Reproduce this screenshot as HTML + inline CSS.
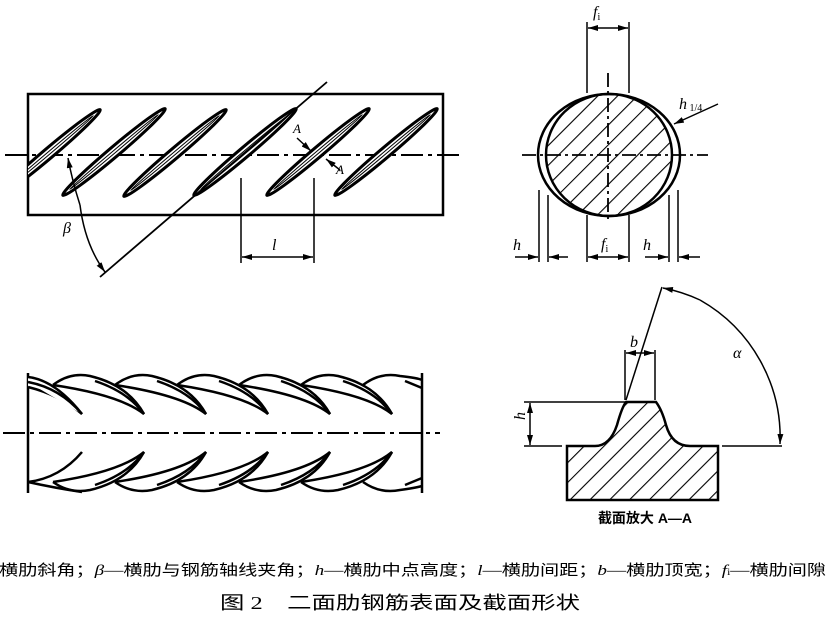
<!DOCTYPE html>
<html><head><meta charset="utf-8"><style>
html,body{margin:0;padding:0;background:#fff;}
svg{display:block;}
text{font-family:"Liberation Serif","Noto Serif CJK SC",serif;}
</style></head><body>
<svg width="827" height="625" viewBox="0 0 827 625" xmlns="http://www.w3.org/2000/svg">
<defs>
<pattern id="h" patternUnits="userSpaceOnUse" width="14" height="14" patternTransform="rotate(45)">
<line x1="0" y1="0" x2="0" y2="14" stroke="#000" stroke-width="2.2"/>
</pattern>
<clipPath id="r1"><rect x="28" y="94" width="415" height="121"/></clipPath>
<marker id="a" markerWidth="10" markerHeight="6" refX="10" refY="3" orient="auto" markerUnits="userSpaceOnUse"><path d="M0,0 L10,3 L0,6z" fill="#000"/></marker>
</defs>
<g fill="none" stroke="#000">
<rect x="28" y="94" width="415" height="121" stroke-width="2.5"/>
<line x1="5" y1="155" x2="460" y2="155" stroke-width="2" stroke-dasharray="22,5,4,5"/>
<g clip-path="url(#r1)" fill="#fff">
<g transform="translate(49,153) rotate(-40.2)"><ellipse rx="67" ry="5" stroke-width="3"/><ellipse rx="58" ry="1.3" stroke-width="1"/></g>
<g transform="translate(114,152) rotate(-40.2)"><ellipse rx="67" ry="5" stroke-width="3"/><ellipse rx="58" ry="1.3" stroke-width="1"/></g>
<g transform="translate(175,153) rotate(-40.2)"><ellipse rx="67" ry="5" stroke-width="3"/><ellipse rx="58" ry="1.3" stroke-width="1"/></g>
<g transform="translate(245,152) rotate(-40.2)"><ellipse rx="67" ry="5" stroke-width="3"/><ellipse rx="58" ry="1.3" stroke-width="1"/></g>
<g transform="translate(318,152) rotate(-40.2)"><ellipse rx="67" ry="5" stroke-width="3"/><ellipse rx="58" ry="1.3" stroke-width="1"/></g>
<g transform="translate(386,152) rotate(-40.2)"><ellipse rx="67" ry="5" stroke-width="3"/><ellipse rx="58" ry="1.3" stroke-width="1"/></g>
</g>
<line x1="100" y1="277" x2="327" y2="82" stroke-width="1.8"/>
<path d="M80,205 Q85,245 105,272" stroke-width="1.5" marker-end="url(#a)"/>
<path d="M80,205 Q72,180 68,158" stroke-width="1.5" marker-end="url(#a)"/>
<line x1="297" y1="138" x2="311" y2="151" stroke-width="1.5" marker-end="url(#a)"/>
<line x1="340" y1="170" x2="326" y2="159" stroke-width="1.5" marker-end="url(#a)"/>
<line x1="241" y1="178" x2="241" y2="263" stroke-width="1.5"/>
<line x1="314" y1="178" x2="314" y2="263" stroke-width="1.5"/>
<line x1="277" y1="257" x2="242" y2="257" stroke-width="1.5" marker-end="url(#a)"/>
<line x1="277" y1="257" x2="313" y2="257" stroke-width="1.5" marker-end="url(#a)"/>

<ellipse cx="609" cy="155" rx="63" ry="61" fill="url(#h)" stroke-width="2.5"/>
<ellipse cx="609" cy="155" rx="71" ry="61" stroke-width="2.5"/>
<line x1="608" y1="73" x2="608" y2="220" stroke-width="1.8" stroke-dasharray="14,4,3,4"/>
<line x1="522" y1="155" x2="708" y2="155" stroke-width="1.8" stroke-dasharray="14,4,3,4"/>
<line x1="587" y1="22" x2="587" y2="93" stroke-width="1.5"/>
<line x1="629" y1="22" x2="629" y2="93" stroke-width="1.5"/>
<line x1="608" y1="28" x2="588" y2="28" stroke-width="1.5" marker-end="url(#a)"/>
<line x1="608" y1="28" x2="628" y2="28" stroke-width="1.5" marker-end="url(#a)"/>
<line x1="539" y1="190" x2="539" y2="262" stroke-width="1.5"/>
<line x1="548" y1="195" x2="548" y2="262" stroke-width="1.5"/>
<line x1="587" y1="215" x2="587" y2="262" stroke-width="1.5"/>
<line x1="629" y1="215" x2="629" y2="262" stroke-width="1.5"/>
<line x1="669" y1="195" x2="669" y2="262" stroke-width="1.5"/>
<line x1="678" y1="190" x2="678" y2="262" stroke-width="1.5"/>
<line x1="515" y1="257" x2="538" y2="257" stroke-width="1.5" marker-end="url(#a)"/>
<line x1="568" y1="257" x2="549" y2="257" stroke-width="1.5" marker-end="url(#a)"/>
<line x1="608" y1="257" x2="588" y2="257" stroke-width="1.5" marker-end="url(#a)"/>
<line x1="608" y1="257" x2="628" y2="257" stroke-width="1.5" marker-end="url(#a)"/>
<line x1="645" y1="257" x2="668" y2="257" stroke-width="1.5" marker-end="url(#a)"/>
<line x1="700" y1="257" x2="679" y2="257" stroke-width="1.5" marker-end="url(#a)"/>
<line x1="718" y1="104" x2="674" y2="124" stroke-width="1.5" marker-end="url(#a)"/>

<line x1="28" y1="373" x2="28" y2="493" stroke-width="2.5"/>
<line x1="422" y1="373" x2="422" y2="493" stroke-width="2.5"/>
<line x1="3" y1="433" x2="440" y2="433" stroke-width="2" stroke-dasharray="22,5,4,5"/>
<g stroke-width="2.5" fill="#fff">
<path d="M28,377 Q55,380 82,414 Q60,395 28,387"/>
<path d="M28,382 Q60,388 82,414"/>
<path d="M82,492 Q55,488 28,482 M82,452 Q60,478 28,482"/>
</g>
<g stroke-width="2.5" fill="none" id="rb">
<path d="M53,385 Q70,372 90,376 Q128,385 144,414 Q120,395 53,385"/>
<path d="M95,381 Q128,392 144,414"/>
<path d="M53,482 Q70,494 90,490 Q128,481 144,452 Q120,472 53,482"/>
<path d="M95,485 Q128,474 144,452"/>
</g>
<use href="#rb" x="62"/><use href="#rb" x="124"/><use href="#rb" x="186"/><use href="#rb" x="248"/>
<g stroke-width="2.5"><path d="M363,385 Q380,372 400,376 Q418,378 422,380"/><path d="M405,381 L422,388"/>
<path d="M363,482 Q380,494 400,490 Q415,488 422,486"/><path d="M405,485 L422,478"/></g>

<path d="M567,446 L595,446 Q610,446 617,425 Q622,407 626,402 L656,402 Q662,410 666,425 Q672,446 690,446 L718,446 L718,500 L567,500 Z" fill="url(#h)" stroke-width="2.5"/>
<line x1="524" y1="402" x2="625" y2="402" stroke-width="1.5"/>
<line x1="524" y1="446" x2="562" y2="446" stroke-width="1.5"/>
<line x1="722" y1="446" x2="782" y2="446" stroke-width="1.5"/>
<line x1="530" y1="424" x2="530" y2="403" stroke-width="1.5" marker-end="url(#a)"/>
<line x1="530" y1="424" x2="530" y2="445" stroke-width="1.5" marker-end="url(#a)"/>
<line x1="625" y1="350" x2="625" y2="400" stroke-width="1.5"/>
<line x1="655" y1="350" x2="655" y2="400" stroke-width="1.5"/>
<line x1="640" y1="353" x2="626" y2="353" stroke-width="1.5" marker-end="url(#a)"/>
<line x1="640" y1="353" x2="654" y2="353" stroke-width="1.5" marker-end="url(#a)"/>
<line x1="626" y1="400" x2="662" y2="287" stroke-width="1.5"/>
<path d="M700,300 A158,158 0 0 0 663,288" stroke-width="1.5" marker-end="url(#a)"/>
<path d="M700,300 A158,158 0 0 1 780,444" stroke-width="1.5" marker-end="url(#a)"/>
</g>
<g fill="#000" font-style="italic" font-size="16">
<text x="63" y="233">β</text>
<text x="272" y="250">l</text>
<text x="293" y="133" font-size="13">A</text>
<text x="336" y="174" font-size="13">A</text>
<text x="593" y="17">f<tspan font-size="10" font-style="normal" dy="3">i</tspan></text>
<text x="601" y="249">f<tspan font-size="10" font-style="normal" dy="3">i</tspan></text>
<text x="513" y="250">h</text>
<text x="643" y="250">h</text>
<text x="679" y="109">h<tspan font-size="10" font-style="normal" dy="2"> 1/4</tspan></text>
<text x="630" y="347">b</text>
<text x="733" y="358">α</text>
<text x="525" y="430" transform="rotate(-90 520 425)">h</text>
</g>
<text x="645" y="523" font-size="14" text-anchor="middle" fill="#000" font-weight="bold" style="font-family:'Liberation Sans','Noto Sans CJK SC',sans-serif">截面放大 A—A</text>
<text x="-1" y="575" font-size="15" fill="#000" textLength="827" lengthAdjust="spacingAndGlyphs" style="font-family:'Liberation Serif','Noto Sans CJK SC',serif">横肋斜角；<tspan font-style="italic">β</tspan>—横肋与钢筋轴线夹角；<tspan font-style="italic">h</tspan>—横肋中点高度；<tspan font-style="italic">l</tspan>—横肋间距；<tspan font-style="italic">b</tspan>—横肋顶宽；<tspan font-style="italic">f</tspan><tspan font-size="9">i</tspan>—横肋间隙</text>
<text x="220" y="609" font-size="18" fill="#000" textLength="360" lengthAdjust="spacingAndGlyphs" style="font-family:'Liberation Serif','Noto Sans CJK SC',serif">图 2　二面肋钢筋表面及截面形状</text>
</svg>
</body></html>
